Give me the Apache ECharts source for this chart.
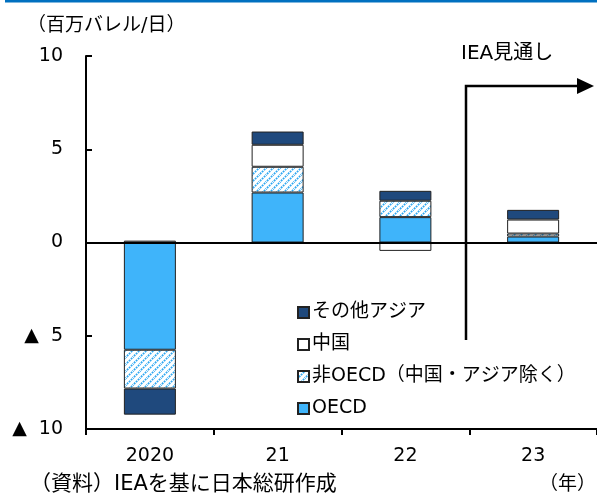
<!DOCTYPE html>
<html>
<head>
<meta charset="utf-8">
<script src="https://cdn.jsdelivr.net/npm/echarts@6/dist/echarts.min.js"></script>
<style>
  html, body { margin: 0; padding: 0; background: #fff; }
  #chart { width: 597px; height: 499px; }
</style>
</head>
<body>
<div id="chart"></div>
<script>
const years = ['2020', '21', '22', '23']
const oecd = [-5.75, 2.68, 1.36, 0.32]
const nonOecd = [-2.08, 1.38, 0.88, 0.16]
const china = [0.1, 1.18, -0.45, 0.75]
const otherAsia = [-1.4, 0.71, 0.53, 0.52]

const fontFamily = '"DejaVu Sans", "Noto Sans CJK JP", sans-serif'
const blue = '#3FB4FA'
const navy = '#1F497D'

// hatch pattern for 非OECD
function hatch() {
  const c = document.createElement('canvas')
  c.width = 7
  c.height = 7
  const ctx = c.getContext('2d')
  ctx.fillStyle = '#fff'
  ctx.fillRect(0, 0, 7, 7)
  ctx.strokeStyle = '#2FA8F2'
  ctx.lineWidth = 1.8
  ctx.setLineDash([1.8, 1])
  ctx.beginPath()
  ctx.moveTo(-1, 8); ctx.lineTo(8, -1)
  ctx.moveTo(-4.5, 4.5); ctx.lineTo(4.5, -4.5)
  ctx.moveTo(2.5, 11.5); ctx.lineTo(11.5, 2.5)
  ctx.stroke()
  return c
}

const chart = echarts.init(document.getElementById('chart'))
const border = { borderColor: '#222', borderWidth: 1 }

chart.setOption({
  animation: false,
  textStyle: { fontFamily: fontFamily },
  title: {
    text: '（百万バレル/日）',
    left: 22,
    top: 12,
    textStyle: { fontSize: 19, fontWeight: 'normal', color: '#000', fontFamily: fontFamily }
  },
  legend: {
    orient: 'vertical',
    left: 292,
    top: 298,
    itemWidth: 11,
    itemHeight: 11,
    itemGap: 13,
    icon: 'rect',
    textStyle: { fontSize: 19, color: '#000', fontFamily: fontFamily, padding: [0, 0, 0, -2] },
    data: ['その他アジア', '中国', '非OECD（中国・アジア除く）', 'OECD']
  },
  grid: {
    left: 86,
    top: 56,
    bottom: 70,
    width: 524
  },
  xAxis: {
    type: 'category',
    data: years,
    position: 'bottom',
    axisLine: { onZero: false, lineStyle: { color: '#000', width: 2 } },
    axisTick: { show: true, length: 6, lineStyle: { color: '#000', width: 2 } },
    axisLabel: { fontSize: 19, color: '#000', margin: 18 }
  },
  yAxis: {
    type: 'value',
    min: -10,
    max: 10,
    interval: 5,
    axisLine: { show: true, lineStyle: { color: '#000', width: 2 } },
    axisTick: { show: true, inside: true, length: 6, lineStyle: { color: '#000', width: 2 } },
    splitLine: { show: false },
    axisLabel: {
      fontSize: 19,
      color: '#000',
      margin: 23,
      formatter: v => (v < 0 ? '▲  ' + (-v) : String(v))
    }
  },
  series: [
    {
      name: 'OECD',
      type: 'bar',
      stack: 'total',
      barWidth: 52,
      data: oecd,
      itemStyle: Object.assign({ color: blue }, border),
      markLine: {
        silent: true,
        symbol: 'none',
        label: { show: false },
        lineStyle: { color: '#000', width: 2, type: 'solid' },
        data: [{ yAxis: 0 }]
      }
    },
    {
      name: '非OECD（中国・アジア除く）',
      type: 'bar',
      stack: 'total',
      data: nonOecd,
      itemStyle: Object.assign({ color: { image: hatch(), repeat: 'repeat' } }, border)
    },
    {
      name: '中国',
      type: 'bar',
      stack: 'total',
      data: china,
      itemStyle: Object.assign({ color: '#fff' }, border)
    },
    {
      name: 'その他アジア',
      type: 'bar',
      stack: 'total',
      data: otherAsia,
      itemStyle: Object.assign({ color: navy }, border)
    }
  ],
  graphic: [
    { type: 'rect', left: 5, top: 0, shape: { width: 592, height: 2.5 }, style: { fill: '#0070C0' } },
    {
      type: 'text', left: 461, top: 44,
      style: { text: 'IEA見通し', font: '20px ' + fontFamily, fill: '#000' }
    },
    {
      type: 'polyline',
      shape: { points: [[466, 340], [466, 86], [579, 86]] },
      style: { stroke: '#000', lineWidth: 2.5, fill: null }
    },
    {
      type: 'polygon',
      shape: { points: [[577, 78], [594, 86], [577, 94]] },
      style: { fill: '#000' }
    },
    {
      type: 'text', left: 30, top: 474,
      style: { text: '（資料）IEAを基に日本総研作成', font: '21px ' + fontFamily, fill: '#000' }
    },
    {
      type: 'text', left: 539, top: 476,
      style: { text: '（年）', font: '19px ' + fontFamily, fill: '#000' }
    }
  ]
})
</script>
</body>
</html>
